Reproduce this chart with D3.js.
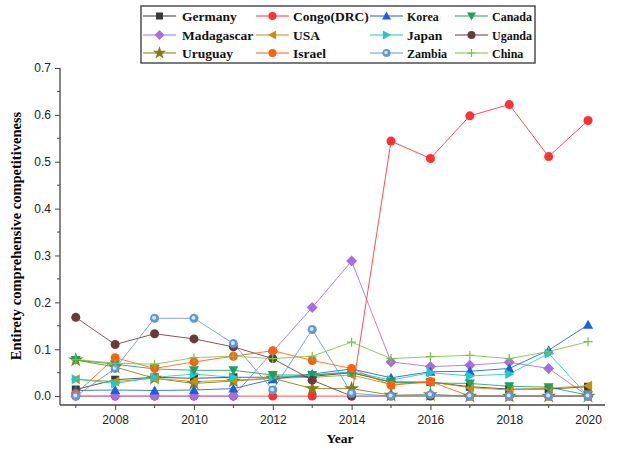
<!DOCTYPE html>
<html>
<head>
<meta charset="utf-8">
<script src="https://cdn.jsdelivr.net/npm/d3@7"></script>
<style>
  html, body { margin: 0; padding: 0; background: #fff; }
  svg { display: block; }
</style>
</head>
<body>
<svg id="chart" width="621" height="449"></svg>
<script>
// Years on the x axis
const years = [2007, 2008, 2009, 2010, 2011, 2012, 2013, 2014, 2015, 2016, 2017, 2018, 2019, 2020];

// Comprehensive competitiveness per country
const germany    = [0.014, 0.035, 0.040, 0.038, 0.040, 0.040, 0.042, 0.050, 0.030, 0.030, 0.020, 0.015, 0.015, 0.020];
const congo      = [0.000, 0.000, 0.000, 0.000, 0.000, 0.000, 0.000, 0.000, 0.544, 0.507, 0.598, 0.622, 0.511, 0.588];
const korea      = [0.012, 0.013, 0.012, 0.013, 0.016, 0.036, 0.047, 0.058, 0.039, 0.052, 0.053, 0.059, 0.098, 0.152];
const canada     = [0.077, 0.068, 0.058, 0.055, 0.055, 0.045, 0.045, 0.050, 0.030, 0.028, 0.027, 0.021, 0.019, 0.002];
const madagascar = [0.000, 0.000, 0.000, 0.000, 0.000, 0.095, 0.189, 0.288, 0.073, 0.063, 0.066, 0.072, 0.059, 0.000];
const usa        = [0.036, 0.031, 0.038, 0.031, 0.034, 0.038, 0.040, 0.045, 0.025, 0.030, 0.018, 0.013, 0.017, 0.022];
const japan      = [0.036, 0.027, 0.040, 0.047, 0.040, 0.040, 0.045, 0.052, 0.034, 0.050, 0.043, 0.047, 0.091, 0.000];
const uganda     = [0.168, 0.110, 0.133, 0.122, 0.105, 0.080, 0.034, 0.000, 0.000, 0.000, 0.000, 0.000, 0.000, 0.000];
const uruguay    = [0.077, 0.062, 0.038, 0.027, 0.032, 0.038, 0.016, 0.016, 0.002, 0.003, 0.000, 0.000, 0.000, 0.000];
const israel     = [0.005, 0.082, 0.059, 0.073, 0.085, 0.097, 0.076, 0.059, 0.023, 0.031, 0.000, 0.000, 0.000, 0.000];
const zambia     = [0.000, 0.059, 0.166, 0.166, 0.112, 0.013, 0.142, 0.006, 0.000, 0.003, 0.000, 0.000, 0.000, 0.000];
const china      = [0.078, 0.070, 0.068, 0.082, 0.085, 0.080, 0.085, 0.115, 0.080, 0.084, 0.087, 0.080, 0.095, 0.116];

// Axis tick values
const xTickLabels = [2008, 2010, 2012, 2014, 2016, 2018, 2020];
const yTickLabels = [0.0, 0.1, 0.2, 0.3, 0.4, 0.5, 0.6, 0.7];

// Series styling in drawing order (later ones sit on top)
const series = [
  { name: "Congo(DRC)", values: congo,      color: "#ff3030", marker: "circle" },
  { name: "Germany",    values: germany,    color: "#3a3a3a", marker: "square" },
  { name: "Madagascar", values: madagascar, color: "#a66ee0", marker: "diamond" },
  { name: "Uruguay",    values: uruguay,    color: "#7f7f10", marker: "star" },
  { name: "USA",        values: usa,        color: "#c8900a", marker: "left" },
  { name: "Korea",      values: korea,      color: "#1a5fe0", marker: "up" },
  { name: "Japan",      values: japan,      color: "#20c8c8", marker: "right" },
  { name: "Canada",     values: canada,     color: "#20a060", marker: "down" },
  { name: "Uganda",     values: uganda,     color: "#6b3a3a", marker: "circle" },
  { name: "Israel",     values: israel,     color: "#ff6010", marker: "circle" },
  { name: "Zambia",     values: zambia,     color: "#5f98d8", marker: "zcircle" },
  { name: "China",      values: china,      color: "#7ac143", marker: "plus" }
];

// Legend layout order (rows of four)
const legendOrder = [
  "Germany", "Congo(DRC)", "Korea", "Canada",
  "Madagascar", "USA", "Japan", "Uganda",
  "Uruguay", "Israel", "Zambia", "China"
];

const svg = d3.select("#chart");

const x = d3.scaleLinear().domain([2006.6, 2020.43]).range([60, 605]);
const y = d3.scaleLinear().domain([-0.019, 0.7]).range([405, 68]);

// Marker drawing
function drawMarker(g, kind, color, size) {
  const s = size;
  if (kind === "square") {
    g.append("rect").attr("x", -s / 2).attr("y", -s / 2).attr("width", s).attr("height", s).attr("fill", color);
  } else if (kind === "circle") {
    g.append("circle").attr("r", s / 2 + 0.5).attr("fill", color);
  } else if (kind === "zcircle") {
    g.append("circle").attr("r", s / 2 + 0.5).attr("fill", color);
    g.append("circle").attr("r", s / 4).attr("cx", -0.5).attr("cy", -0.5).attr("fill", "#ffffff").attr("opacity", 0.75);
  } else if (kind === "diamond") {
    const r = s / 2 + 1.5;
    g.append("path").attr("d", `M0,${-r}L${r},0L0,${r}L${-r},0Z`).attr("fill", color);
  } else if (kind === "up") {
    const r = s / 2 + 1;
    g.append("path").attr("d", `M0,${-r}L${r},${r * 0.8}L${-r},${r * 0.8}Z`).attr("fill", color);
  } else if (kind === "down") {
    const r = s / 2 + 1;
    g.append("path").attr("d", `M0,${r}L${r},${-r * 0.8}L${-r},${-r * 0.8}Z`).attr("fill", color);
  } else if (kind === "left") {
    const r = s / 2 + 1;
    g.append("path").attr("d", `M${-r},0L${r * 0.8},${-r}L${r * 0.8},${r}Z`).attr("fill", color);
  } else if (kind === "right") {
    const r = s / 2 + 1;
    g.append("path").attr("d", `M${r},0L${-r * 0.8},${-r}L${-r * 0.8},${r}Z`).attr("fill", color);
  } else if (kind === "star") {
    g.append("path").attr("d", d3.symbol().type(d3.symbolStar).size(s * s * 1.1)()).attr("fill", color);
  } else if (kind === "plus") {
    const r = s / 2 + 0.5;
    g.append("path").attr("d", `M${-r},0H${r}M0,${-r}V${r}`).attr("stroke", color).attr("stroke-width", 1.2).attr("fill", "none");
  }
}

// Axes
const xAxisG = svg.append("g").attr("transform", "translate(0,405)");
xAxisG.call(d3.axisBottom(x).tickValues(xTickLabels).tickFormat(d3.format("d")).tickSize(5).tickPadding(5));
// Minor ticks on odd years
xAxisG.selectAll(".minor").data(years.filter(v => v % 2 === 1)).enter()
  .append("line").attr("class", "minor")
  .attr("x1", d => x(d)).attr("x2", d => x(d)).attr("y1", 0).attr("y2", 3)
  .attr("stroke", "#444").attr("stroke-width", 1);

const yAxisG = svg.append("g").attr("transform", "translate(60,0)");
yAxisG.call(d3.axisLeft(y).tickValues(yTickLabels).tickFormat(d3.format(".1f")).tickSize(5).tickPadding(4));
yAxisG.selectAll(".minor").data(yTickLabels.slice(0, -1).map(v => v + 0.05)).enter()
  .append("line").attr("class", "minor")
  .attr("x1", 0).attr("x2", -3).attr("y1", d => y(d)).attr("y2", d => y(d))
  .attr("stroke", "#444").attr("stroke-width", 1);

[xAxisG, yAxisG].forEach(g => {
  g.select(".domain").attr("stroke", "#444").attr("stroke-width", 1.3);
  g.selectAll(".tick line").attr("stroke", "#444").attr("stroke-width", 1);
  g.selectAll(".tick text").attr("font-family", "Liberation Sans, Arial, sans-serif").attr("font-size", 12).attr("fill", "#222");
});
xAxisG.select(".domain").attr("d", `M60,0H605`);
yAxisG.select(".domain").attr("d", `M0,68V405`);

// Axis titles
svg.append("text").attr("x", 340).attr("y", 443).attr("text-anchor", "middle")
  .attr("font-family", "Liberation Serif, serif").attr("font-weight", "bold").attr("font-size", 13.5)
  .text("Year");
svg.append("text").attr("transform", "translate(21,236) rotate(-90)").attr("text-anchor", "middle")
  .attr("font-family", "Liberation Serif, serif").attr("font-weight", "bold").attr("font-size", 14.5)
  .text("Entirety comprehensive competitiveness");

// Lines and markers
const line = d3.line().x((d, i) => x(years[i])).y(d => y(d));
const plot = svg.append("g");
series.forEach(s => {
  plot.append("path").datum(s.values).attr("d", line)
    .attr("fill", "none").attr("stroke", s.color).attr("stroke-width", 1).attr("stroke-opacity", 0.85);
});
series.forEach(s => {
  s.values.forEach((v, i) => {
    const g = plot.append("g").attr("transform", `translate(${x(years[i])},${y(v)})`);
    drawMarker(g, s.marker, s.color, 8);
  });
});

// Legend
const legend = svg.append("g");
legend.append("rect").attr("x", 141).attr("y", 6).attr("width", 394).attr("height", 57)
  .attr("fill", "#fff").attr("stroke", "#333").attr("stroke-width", 1.3);
const colX = [143, 256, 370, 455];
const textX = [182, 293, 407, 492];
const rowY = [16, 35, 53];
legendOrder.forEach((name, k) => {
  const s = series.find(d => d.name === name);
  const c = k % 4, r = Math.floor(k / 4);
  const cy = rowY[r];
  legend.append("line").attr("x1", colX[c]).attr("x2", colX[c] + 33).attr("y1", cy).attr("y2", cy)
    .attr("stroke", s.color).attr("stroke-width", 1.2);
  const g = legend.append("g").attr("transform", `translate(${colX[c] + 16.5},${cy})`);
  drawMarker(g, s.marker, s.color, 7);
  legend.append("text").attr("x", textX[c]).attr("y", cy + 4.5)
    .attr("font-family", "Liberation Serif, serif").attr("font-weight", "bold")
    .attr("font-size", c >= 2 && name !== "Japan" ? 12 : 13.5).attr("fill", "#111")
    .text(name);
});
</script>
</body>
</html>
